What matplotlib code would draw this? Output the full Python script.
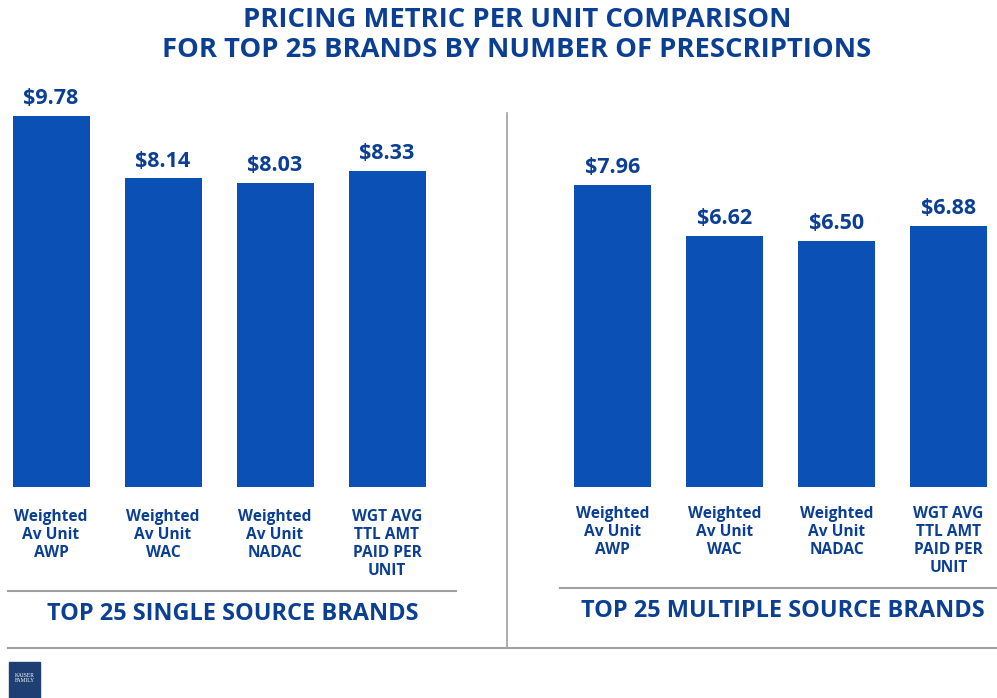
import matplotlib.pyplot as plt
from matplotlib.lines import Line2D
from matplotlib.patches import Rectangle

# values per unit, two groups of brands
categories = ["Weighted\nAv Unit\nAWP", "Weighted\nAv Unit\nWAC",
              "Weighted\nAv Unit\nNADAC", "WGT AVG\nTTL AMT\nPAID PER\nUNIT"]
single_source = [9.78, 8.14, 8.03, 8.33]
multiple_source = [7.96, 6.62, 6.50, 6.88]
group_titles = ["TOP 25 SINGLE SOURCE BRANDS", "TOP 25 MULTIPLE SOURCE BRANDS"]
title = "PRICING METRIC PER UNIT COMPARISON\nFOR TOP 25 BRANDS BY NUMBER OF PRESCRIPTIONS"

BAR = '#0b50b4'
TXT = '#0b3f94'
GREY = '#a0a0a0'
W, H = 997, 698

fig = plt.figure(figsize=(W / 100, H / 100), dpi=100)
fig.patch.set_facecolor('white')


def px_axes(x0, y_top, w, h):
    # axes placed with pixel coordinates measured from the top-left corner
    return fig.add_axes([x0 / W, 1 - (y_top + h) / H, w / W, h / H])


step = 112.0       # pixels between bar centres
bottom = 487.0     # baseline of the bars
unit = 37.9        # pixels per dollar
ymax = 10.0


def draw_group(ax, values, first_centre, label_top):
    xs = list(range(len(values)))
    ax.bar(xs, values, width=77 / step, color=BAR, edgecolor='none')
    for x, v in zip(xs, values):
        ax.annotate("${:.2f}".format(v), (x, v), textcoords="offset points",
                    xytext=(0, 5), ha='center', va='bottom', fontsize=15.5,
                    fontweight='bold', color=TXT, family='Open Sans')
    ax.set_ylim(0, ymax)
    ax.axis('off')
    for i, lab in enumerate(categories):
        cx = first_centre + i * step
        fig.text(cx / W, 1 - label_top / H, lab, ha='center', va='top', fontsize=11.2,
                 fontweight='bold', color=TXT, family='Open Sans', linespacing=1.18)


h_px = ymax * unit
left_ax = px_axes(51 - step / 2, bottom - h_px, 4 * step, h_px)
left_ax.set_xlim(-0.5, 3.5)
draw_group(left_ax, single_source, 51, 509)

right_w = W - (612.5 - step / 2)
right_ax = px_axes(612.5 - step / 2, bottom - h_px, right_w, h_px)
right_ax.set_xlim(-0.5, -0.5 + right_w / step)
draw_group(right_ax, multiple_source, 612.5, 506)

# separators
def hline(x0, x1, y, lw=1.5):
    fig.add_artist(Line2D([x0 / W, x1 / W], [1 - y / H, 1 - y / H], color=GREY, lw=lw))


hline(8, 456, 591)
hline(560, 997, 588)
hline(8, 997, 648)
fig.add_artist(Line2D([507 / W, 507 / W], [1 - 113 / H, 1 - 648 / H], color=GREY, lw=1.2))

fig.text(233 / W, 1 - 614 / H, group_titles[0], ha='center', va='center',
         fontsize=16.9, fontweight='bold', color=TXT, family='Open Sans')
fig.text(783 / W, 1 - 611 / H, group_titles[1], ha='center', va='center',
         fontsize=16.9, fontweight='bold', color=TXT, family='Open Sans')

fig.text(517 / W, 1 - 35 / H, title, ha='center', va='center', fontsize=19.7,
         fontweight='bold', color=TXT, linespacing=1.2, family='Open Sans')

# footer logo block
fig.add_artist(Rectangle((9 / W, 1 - 698 / H), 31 / W, 36 / H, color='#1f3f73',
                         transform=fig.transFigure))
fig.text(24.5 / W, 1 - 678 / H, "KAISER\nFAMILY", ha='center', va='center',
         fontsize=4, color='white', family='Liberation Serif', linespacing=1.1)

fig.savefig("out.png", dpi=100, facecolor='white')
